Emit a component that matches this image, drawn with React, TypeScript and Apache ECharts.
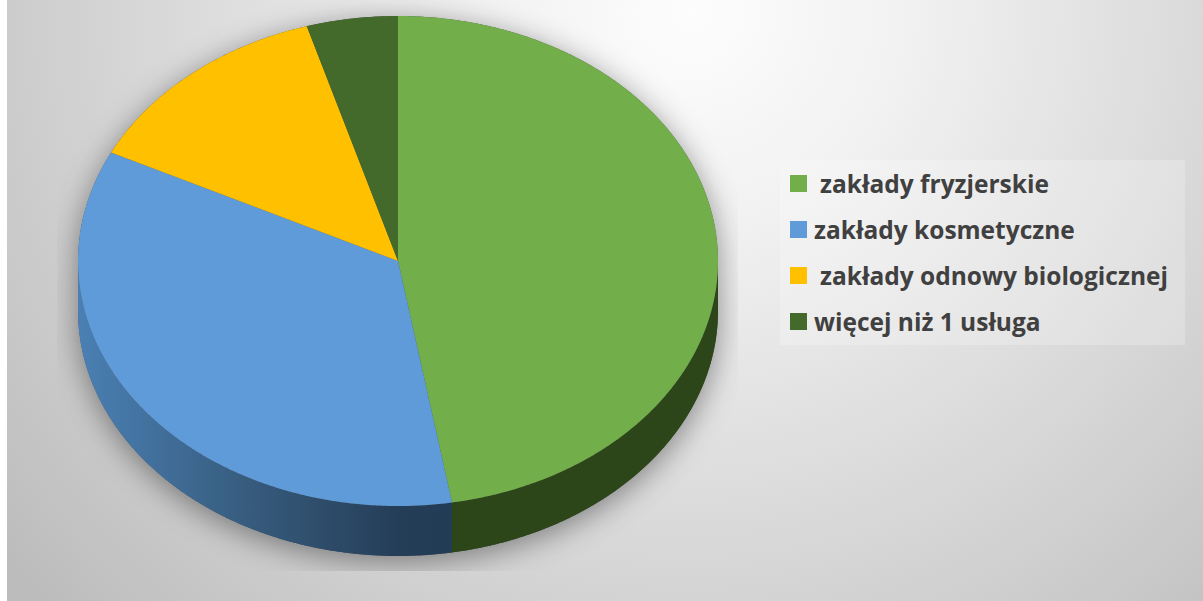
import React, { useEffect, useRef } from "react";
import * as echarts from "echarts";

const categories = ["zakłady fryzjerskie", "zakłady kosmetyczne", "zakłady odnowy biologicznej", "więcej niż 1 usługa"];
const shares = [47.3, 35.0, 13.1, 4.6];
const topColors = ["#72AE4A", "#5E9BD8", "#FFC000", "#43692B"];
const legendIndent = [8, 2, 8, 2];

const CX = 398, CY = 261, RX = 320, RY = 245, DEPTH = 50;
const total = shares.reduce((a, b) => a + b, 0);
const pt = (deg: number, dy = 0): number[] => {
  const r = (deg * Math.PI) / 180;
  return [CX + RX * Math.sin(r), CY - RY * Math.cos(r) + dy];
};
const arc = (a0: number, a1: number, dy = 0): number[][] => {
  const out: number[][] = [];
  const n = Math.max(2, Math.ceil(Math.abs(a1 - a0) * 2));
  for (let i = 0; i <= n; i++) out.push(pt(a0 + ((a1 - a0) * i) / n, dy));
  return out;
};
const sideFill = (i: number): any =>
  i === 1
    ? new echarts.graphic.LinearGradient(CX - RX, 0, 452, 0, [
        { offset: 0, color: "#4A80B4" },
        { offset: 0.45, color: "#375C7E" },
        { offset: 0.85, color: "#253E58" },
        { offset: 1, color: "#233C55" },
      ], true)
    : "#2D4619";

const renderSlice = (i: number) => (_params: any, _api: any) => {
  const start = (shares.slice(0, i).reduce((a, b) => a + b, 0) / total) * 360;
  const end = start + (shares[i] / total) * 360;
  const children: any[] = [];
  const s0 = Math.max(start, 90), s1 = Math.min(end, 270);
  if (s1 > s0) {
    children.push({
      type: "polygon",
      shape: { points: [...arc(s0, s1), ...arc(s1, s0, DEPTH)] },
      style: { fill: sideFill(i) },
    });
  }
  children.push({
    type: "polygon",
    shape: { points: [[CX, CY], ...arc(start, end)] },
    style: { fill: topColors[i] },
  });
  return { type: "group", children };
};

const renderShadow = () => ({
  type: "polygon",
  shape: { points: [...arc(90, 270, DEPTH), ...arc(270, 450)] },
  style: { fill: "#555", shadowBlur: 30, shadowOffsetY: 6, shadowColor: "rgba(0,0,0,0.42)" },
  clipPath: { type: "rect", shape: { x: 57, y: 0, width: 681, height: 571 } },
});

export default function App() {
  const ref = useRef<HTMLDivElement>(null);
  useEffect(() => {
    const chart = echarts.init(ref.current!, undefined, { renderer: "svg" });
    chart.setOption({
      animation: false,
      graphic: [
        {
          type: "rect",
          z: -10,
          silent: true,
          shape: { x: 7, y: 0, width: 1196, height: 601 },
          style: {
            fill: new echarts.graphic.RadialGradient(690, 10, 880, [
              { offset: 0, color: "#FDFDFD" },
              { offset: 0.25, color: "#F1F1F1" },
              { offset: 0.68, color: "#D3D3D3" },
              { offset: 1, color: "#BCBCBC" },
            ], true),
          },
        },
        {
          type: "rect",
          z: -5,
          silent: true,
          shape: { x: 780, y: 160, width: 405, height: 185 },
          style: { fill: "rgba(255,255,255,0.22)" },
        },
      ],
      legend: {
        orient: "vertical",
        left: 790,
        top: 171,
        padding: 0,
        icon: "rect",
        itemWidth: 17,
        itemHeight: 17,
        itemGap: 21,
        selectedMode: false,
        textStyle: {
          fontFamily: "Open Sans",
          fontWeight: 700,
          fontSize: 24.5,
          color: "#404040",
        },
        data: categories.map((name, i) => ({
          name,
          textStyle: { padding: [0, 0, 0, legendIndent[i]] },
        })),
      },
      series: [
        {
          type: "custom",
          name: "shadow",
          coordinateSystem: "none",
          silent: true,
          z: 1,
          data: [0],
          renderItem: renderShadow,
        },
        ...categories.map((name, i) => ({
          type: "custom",
          name,
          coordinateSystem: "none",
          silent: true,
          z: 2,
          itemStyle: { color: topColors[i] },
          data: [shares[i]],
          renderItem: renderSlice(i),
        })),
      ],
    });
    return () => chart.dispose();
  }, []);
  return (
    <div
      ref={ref}
      style={{ position: "fixed", left: 0, top: 0, width: 1203, height: 601, background: "#fff" }}
    />
  );
}
